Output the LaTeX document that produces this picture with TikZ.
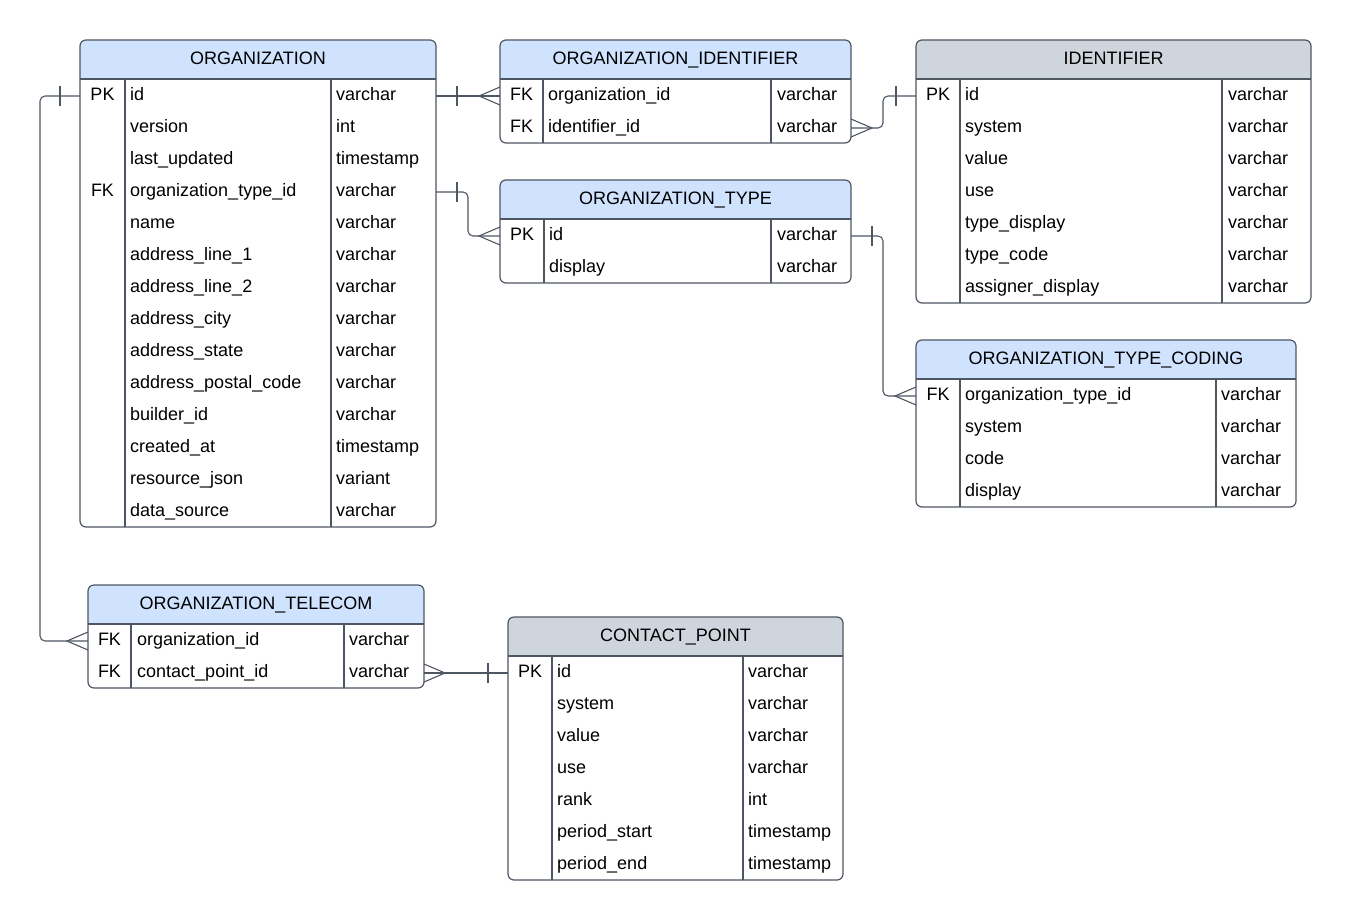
\documentclass[tikz,border=0pt]{standalone}
\usepackage{fontspec}
\setmainfont{Liberation Sans}
\usepackage{tikz}
\usepackage{xcolor}
\usetikzlibrary{calc}

\definecolor{hdrblue}{RGB}{207,226,254}
\definecolor{hdrgrey}{RGB}{207,213,221}
\definecolor{linecol}{RGB}{78,86,98}

\begin{document}
\begin{tikzpicture}[x=1pt, y=-1pt,
    line/.style={draw=linecol, line width=1.2pt},
    conn/.style={draw=linecol, line width=1.1pt, rounded corners=5pt},
    tbl/.style={draw=linecol, line width=1.2pt, rounded corners=6pt, anchor=north west, inner sep=0pt, outer sep=0pt},
    txt/.style={font=\fontsize{18}{21}\selectfont, inner sep=0pt, text height=13pt, text depth=4pt},
    fld/.style={txt, anchor=west},
    title/.style={txt},
    tick/.pic={\draw[line, line width=1.1pt] (0,-10) -- (0,10);},
    crow/.pic={\draw[line, line width=1.1pt] (0,-9) -- (-21,0) -- (0,9);}]
\useasboundingbox (0,0) rectangle (1351,921);

% ORGANIZATION
\fill[hdrblue, rounded corners=6pt] (80,40) rectangle (436,79);
\fill[hdrblue] (80,70) rectangle (436,79);
\node[tbl, minimum width=356pt, minimum height=487pt] (org) at (80,40) {};
\node[title] (org-h) at (258,60) {ORGANIZATION};
\draw[line] (80,79) -- (436,79) (125,79) -- (125,527) (331,79) -- (331,527);
\foreach \k/\f/\t [count=\i] in {PK/id/varchar, {}/version/int, {}/last\_updated/timestamp,
    FK/organization\_type\_id/varchar, {}/name/varchar, {}/address\_line\_1/varchar,
    {}/address\_line\_2/varchar, {}/address\_city/varchar, {}/address\_state/varchar,
    {}/address\_postal\_code/varchar, {}/builder\_id/varchar, {}/created\_at/timestamp,
    {}/resource\_json/variant, {}/data\_source/varchar}{
    \node[txt] (org-k\i) at (102.5, 64+32*\i) {\k};
    \node[fld] (org-f\i) at (130, 64+32*\i) {\f};
    \node[fld] (org-t\i) at (336, 64+32*\i) {\t};
}

% ORGANIZATION_IDENTIFIER
\fill[hdrblue, rounded corners=6pt] (500,40) rectangle (851,79);
\fill[hdrblue] (500,70) rectangle (851,79);
\node[tbl, minimum width=351pt, minimum height=103pt] (orgid) at (500,40) {};
\node[title] (orgid-h) at (675.5,60) {ORGANIZATION\_IDENTIFIER};
\draw[line] (500,79) -- (851,79) (543,79) -- (543,143) (771,79) -- (771,143);
\foreach \k/\f/\t [count=\i] in {FK/organization\_id/varchar, FK/identifier\_id/varchar}{
    \node[txt] (orgid-k\i) at (521.5, 64+32*\i) {\k};
    \node[fld] (orgid-f\i) at (548, 64+32*\i) {\f};
    \node[fld] (orgid-t\i) at (777, 64+32*\i) {\t};
}

% IDENTIFIER
\fill[hdrgrey, rounded corners=6pt] (916,40) rectangle (1311,79);
\fill[hdrgrey] (916,70) rectangle (1311,79);
\node[tbl, minimum width=395pt, minimum height=263pt] (ident) at (916,40) {};
\node[title] (ident-h) at (1113.5,60) {IDENTIFIER};
\draw[line] (916,79) -- (1311,79) (960,79) -- (960,303) (1222,79) -- (1222,303);
\foreach \k/\f/\t [count=\i] in {PK/id/varchar, {}/system/varchar, {}/value/varchar,
    {}/use/varchar, {}/type\_display/varchar, {}/type\_code/varchar, {}/assigner\_display/varchar}{
    \node[txt] (ident-k\i) at (938, 64+32*\i) {\k};
    \node[fld] (ident-f\i) at (965, 64+32*\i) {\f};
    \node[fld] (ident-t\i) at (1228, 64+32*\i) {\t};
}

% ORGANIZATION_TYPE
\fill[hdrblue, rounded corners=6pt] (500,180) rectangle (851,219);
\fill[hdrblue] (500,210) rectangle (851,219);
\node[tbl, minimum width=351pt, minimum height=103pt] (otype) at (500,180) {};
\node[title] (otype-h) at (675.5,200) {ORGANIZATION\_TYPE};
\draw[line] (500,219) -- (851,219) (544,219) -- (544,283) (771,219) -- (771,283);
\foreach \k/\f/\t [count=\i] in {PK/id/varchar, {}/display/varchar}{
    \node[txt] (otype-k\i) at (522, 204+32*\i) {\k};
    \node[fld] (otype-f\i) at (549, 204+32*\i) {\f};
    \node[fld] (otype-t\i) at (777, 204+32*\i) {\t};
}

% ORGANIZATION_TYPE_CODING
\fill[hdrblue, rounded corners=6pt] (916,340) rectangle (1296,379);
\fill[hdrblue] (916,370) rectangle (1296,379);
\node[tbl, minimum width=380pt, minimum height=167pt] (otcode) at (916,340) {};
\node[title] (otcode-h) at (1106,360) {ORGANIZATION\_TYPE\_CODING};
\draw[line] (916,379) -- (1296,379) (960,379) -- (960,507) (1216,379) -- (1216,507);
\foreach \k/\f/\t [count=\i] in {FK/organization\_type\_id/varchar, {}/system/varchar,
    {}/code/varchar, {}/display/varchar}{
    \node[txt] (otcode-k\i) at (938, 364+32*\i) {\k};
    \node[fld] (otcode-f\i) at (965, 364+32*\i) {\f};
    \node[fld] (otcode-t\i) at (1221, 364+32*\i) {\t};
}

% ORGANIZATION_TELECOM
\fill[hdrblue, rounded corners=6pt] (88,585) rectangle (424,624);
\fill[hdrblue] (88,615) rectangle (424,624);
\node[tbl, minimum width=336pt, minimum height=103pt] (otel) at (88,585) {};
\node[title] (otel-h) at (256,605) {ORGANIZATION\_TELECOM};
\draw[line] (88,624) -- (424,624) (131,624) -- (131,688) (344,624) -- (344,688);
\foreach \k/\f/\t [count=\i] in {FK/organization\_id/varchar, FK/contact\_point\_id/varchar}{
    \node[txt] (otel-k\i) at (109.5, 609+32*\i) {\k};
    \node[fld] (otel-f\i) at (137, 609+32*\i) {\f};
    \node[fld] (otel-t\i) at (349, 609+32*\i) {\t};
}

% CONTACT_POINT
\fill[hdrgrey, rounded corners=6pt] (508,617) rectangle (843,656);
\fill[hdrgrey] (508,647) rectangle (843,656);
\node[tbl, minimum width=335pt, minimum height=263pt] (cpt) at (508,617) {};
\node[title] (cpt-h) at (675.5,637) {CONTACT\_POINT};
\draw[line] (508,656) -- (843,656) (552,656) -- (552,880) (743,656) -- (743,880);
\foreach \k/\f/\t [count=\i] in {PK/id/varchar, {}/system/varchar, {}/value/varchar,
    {}/use/varchar, {}/rank/int, {}/period\_start/timestamp, {}/period\_end/timestamp}{
    \node[txt] (cpt-k\i) at (530, 641+32*\i) {\k};
    \node[fld] (cpt-f\i) at (557, 641+32*\i) {\f};
    \node[fld] (cpt-t\i) at (748, 641+32*\i) {\t};
}

% relazioni
\draw[conn] (org.east |- org-k1) -- (orgid.west |- orgid-k1);
\path ($(org.east |- org-k1)+(21,0)$) pic{tick} (orgid.west |- orgid-k1) pic{crow};

\draw[conn] (org.east |- org-k4) -- ++(32,0) |- (otype.west |- otype-k1);
\path ($(org.east |- org-k4)+(21,0)$) pic{tick} (otype.west |- otype-k1) pic{crow};

\draw[conn] (orgid.east |- orgid-k2) -- ++(32,0) |- (ident.west |- ident-k1);
\path (orgid.east |- orgid-k2) pic[xscale=-1]{crow} ($(ident.west |- ident-k1)+(-20,0)$) pic{tick};

\draw[conn] (otype.east |- otype-k1) -- ++(32,0) |- (otcode.west |- otcode-k1);
\path ($(otype.east |- otype-k1)+(21,0)$) pic{tick} (otcode.west |- otcode-k1) pic{crow};

\draw[conn] (org.west |- org-k1) -- ++(-40,0) |- (otel.west |- otel-k1);
\path ($(org.west |- org-k1)+(-20,0)$) pic{tick} (otel.west |- otel-k1) pic{crow};

\draw[conn] (otel.east |- otel-k2) -- (cpt.west |- cpt-k1);
\path (otel.east |- otel-k2) pic[xscale=-1]{crow} ($(cpt.west |- cpt-k1)+(-20,0)$) pic{tick};
\end{tikzpicture}
\end{document}
